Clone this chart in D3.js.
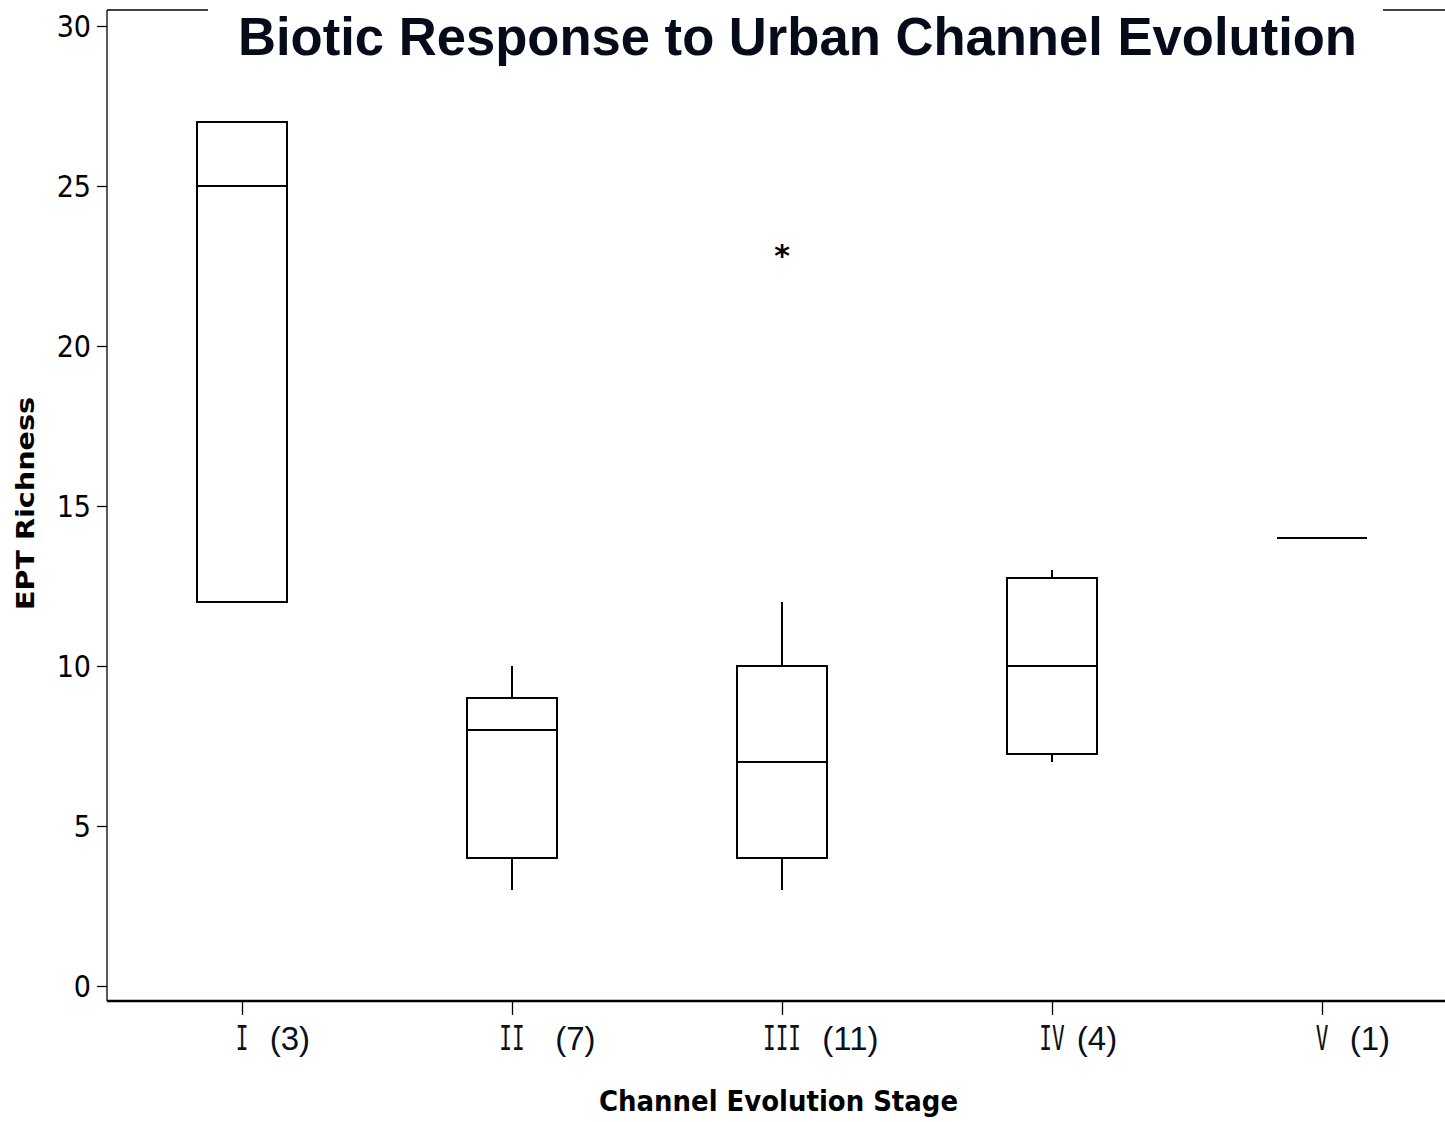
<!DOCTYPE html>
<html>
<head>
<meta charset="utf-8">
<script src="https://cdn.jsdelivr.net/npm/d3@7"></script>
<style>
  html, body { margin: 0; padding: 0; background: #fff; }
  svg { display: block; }
</style>
</head>
<body>
<svg id="chart" width="1445" height="1122"></svg>
<script>
// Channel evolution stages and sample counts
const stages = ["I", "II", "III", "IV", "V"];
const counts = [3, 7, 11, 4, 1];
// Spacing between numeral and count in each axis label
const labelGaps = ["  ", "   ", "  ", " ", "  "];

// Box-plot summaries of EPT richness per stage
const whiskerLow  = [12, 3, 3, 7, 14];
const quartile1   = [12, 4, 4, 7.25, 14];
const medians     = [25, 8, 7, 10, 14];
const quartile3   = [27, 9, 10, 12.75, 14];
const whiskerHigh = [27, 10, 12, 13, 14];
// Outliers: [stage, value]
const outliers = [["III", 23]];

const yTicks = [0, 5, 10, 15, 20, 25, 30];

const svg = d3.select("#chart");
const plotLeft = 107, plotRight = 1457, plotTop = 10, plotBottom = 1001;

const x = d3.scalePoint().domain(stages).range([plotLeft, plotRight]).padding(0.5);
const y = d3.scaleLinear().domain([0, 30]).range([986, 26]);
const boxW = 90;

// Top frame line
svg.append("line").attr("x1", plotLeft).attr("x2", 1445).attr("y1", plotTop).attr("y2", plotTop)
  .attr("stroke", "#000").attr("stroke-width", 1.3);

// Y axis
const yAxis = svg.append("g").attr("transform", `translate(${plotLeft},0)`)
  .call(d3.axisLeft(y).tickValues(yTicks).tickSize(10).tickPadding(6));
yAxis.select(".domain").attr("d", `M0,${plotTop}V${plotBottom}`).attr("stroke-width", 1.3);
yAxis.selectAll(".tick line").attr("stroke-width", 1.3);
yAxis.selectAll(".tick text")
  .attr("font-family", "'Liberation Sans Narrow', 'DejaVu Sans Condensed', sans-serif")
  .attr("font-size", 30).attr("fill", "#000").attr("dy", "0.36em");

// X axis
const xAxis = svg.append("g").attr("transform", `translate(0,${plotBottom})`)
  .call(d3.axisBottom(x).tickSize(14).tickFormat(""));
xAxis.select(".domain").attr("d", `M${plotLeft},0H1445`).attr("stroke-width", 2.4);
xAxis.selectAll(".tick line").attr("stroke-width", 1.3);

// Tick labels: numeral centred on the tick, count after it
stages.forEach((s, i) => {
  const cx = x(s);
  const num = svg.append("text")
    .attr("x", cx).attr("y", 1050)
    .attr("text-anchor", "middle")
    .attr("font-family", "'DejaVu Sans Mono', monospace")
    .attr("font-size", 34)
    .attr("fill", "#111")
    .attr("transform", `translate(${cx},0) scale(0.62,1) translate(${-cx},0)`)
    .text(s);
  const w = num.node().getComputedTextLength() * 0.62;
  svg.append("text")
    .attr("x", cx + w / 2 + 3).attr("y", 1050)
    .attr("font-family", "'Liberation Sans', Arial, sans-serif")
    .attr("font-size", 33)
    .attr("fill", "#0a0f1c")
    .style("white-space", "pre")
    .text(`${labelGaps[i]}(${counts[i]})`);
});

// Boxes
const data = stages.map((s, i) => ({
  s, lo: whiskerLow[i], q1: quartile1[i], med: medians[i], q3: quartile3[i], hi: whiskerHigh[i]
}));
const g = svg.append("g").attr("stroke", "#000").attr("stroke-width", 2).attr("fill", "none");
data.forEach(d => {
  const cx = x(d.s);
  if (d.hi > d.q3) g.append("line").attr("x1", cx).attr("x2", cx).attr("y1", y(d.q3)).attr("y2", y(d.hi));
  if (d.lo < d.q1) g.append("line").attr("x1", cx).attr("x2", cx).attr("y1", y(d.q1)).attr("y2", y(d.lo));
  if (d.q3 > d.q1) {
    g.append("rect").attr("x", cx - boxW / 2).attr("width", boxW)
      .attr("y", y(d.q3)).attr("height", y(d.q1) - y(d.q3));
  }
  g.append("line").attr("x1", cx - boxW / 2).attr("x2", cx + boxW / 2)
    .attr("y1", y(d.med)).attr("y2", y(d.med));
});

// Outliers
outliers.forEach(([s, v]) => {
  svg.append("text").attr("x", x(s)).attr("y", y(v) + 16)
    .attr("text-anchor", "middle")
    .attr("font-family", "'DejaVu Sans', sans-serif")
    .attr("font-size", 30).attr("font-weight", "bold").attr("fill", "#000")
    .text("*");
});

// Title with white backing over the frame line
svg.append("rect").attr("x", 208).attr("y", 0).attr("width", 1383 - 208).attr("height", 22).attr("fill", "#fff");
svg.append("text")
  .attr("x", 238).attr("y", 55)
  .attr("font-family", "'Liberation Sans', Arial, sans-serif")
  .attr("font-weight", "bold").attr("font-size", 53)
  .attr("fill", "#060b1a")
  .attr("textLength", 1119).attr("lengthAdjust", "spacingAndGlyphs")
  .text("Biotic Response to Urban Channel Evolution");

// Axis titles
svg.append("text")
  .attr("x", 599).attr("y", 1111)
  .attr("font-family", "'DejaVu Sans Condensed', 'DejaVu Sans', sans-serif")
  .attr("font-weight", "bold").attr("font-size", 28)
  .attr("fill", "#000")
  .attr("textLength", 359).attr("lengthAdjust", "spacingAndGlyphs")
  .text("Channel Evolution Stage");

svg.append("text")
  .attr("transform", "translate(34,610) rotate(-90)")
  .attr("x", 0).attr("y", 0)
  .attr("font-family", "'DejaVu Sans Condensed', 'DejaVu Sans', sans-serif")
  .attr("font-weight", "bold").attr("font-size", 25)
  .attr("fill", "#000")
  .attr("textLength", 213).attr("lengthAdjust", "spacingAndGlyphs")
  .text("EPT Richness");
</script>
</body>
</html>
